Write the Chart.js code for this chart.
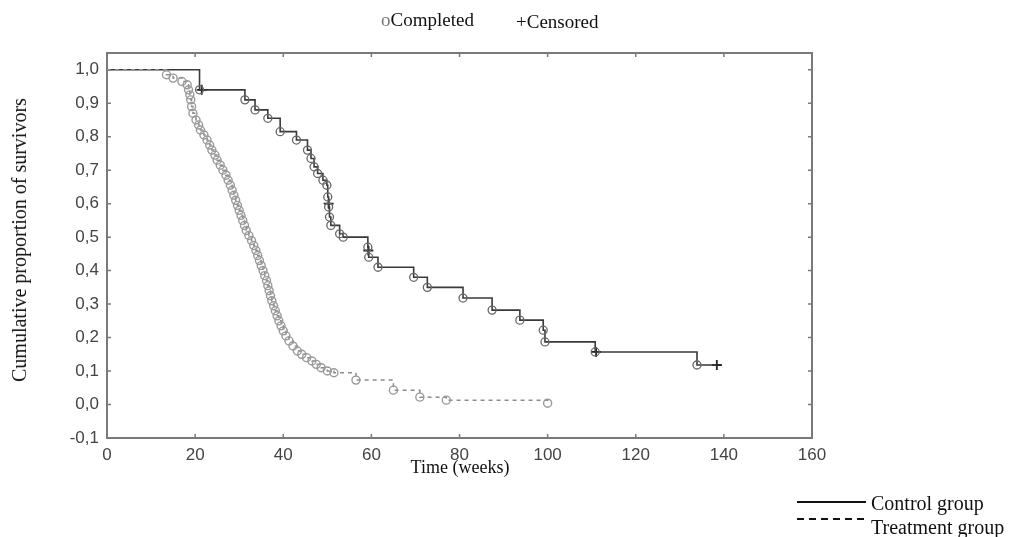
<!DOCTYPE html>
<html>
<head>
<meta charset="utf-8">
<script src="https://cdn.jsdelivr.net/npm/chart.js@4.4.1/dist/chart.umd.min.js"></script>
<style>
  html, body { margin: 0; padding: 0; background: #fff; }
  #wrap { position: relative; width: 1016px; height: 537px; overflow: hidden; }
  #c { position: absolute; left: 0; top: 0; }
  .serif { font-family: "Liberation Serif", "Times New Roman", serif; color: #111; position: absolute; white-space: nowrap; line-height: 1; }
  .lgline { position: absolute; }
</style>
</head>
<body>
<div id="wrap">
  <canvas id="c" width="1016" height="537"></canvas>
  <div class="serif" style="left:381px; top:10px; font-size:19px;"><span style="color:#777;">o</span>Completed</div>
  <div class="serif" style="left:516px; top:12px; font-size:19px;">+Censored</div>
  <div class="serif" id="ytitle" style="left:19px; top:240px; font-size:20px; transform: translate(-50%,-50%) rotate(-90deg);">Cumulative proportion of survivors</div>
  <div class="serif" style="left:460px; top:467px; font-size:18px; transform: translate(-50%,-50%);">Time (weeks)</div>
  <div class="lgline" style="left:797px; top:501px; width:69px; height:1.6px; background:#111;"></div>
  <div class="serif" style="left:871px; top:493px; font-size:20px;">Control group</div>
  <div class="lgline" style="left:797px; top:518px; width:69px; height:1.6px; background: repeating-linear-gradient(to right, #111 0 7px, transparent 7px 12px);"></div>
  <div class="serif" style="left:871px; top:517px; font-size:20px;">Treatment group</div>
</div>
<script>
// ---- data ----
const xTicks = [0, 20, 40, 60, 80, 100, 120, 140, 160];
const yTicks = [-0.1, 0.0, 0.1, 0.2, 0.3, 0.4, 0.5, 0.6, 0.7, 0.8, 0.9, 1.0];
const yTickLabels = ['-0,1', '0,0', '0,1', '0,2', '0,3', '0,4', '0,5', '0,6', '0,7', '0,8', '0,9', '1,0'];

// Control group: event times (weeks) and survival after event
const controlWeeks = [0, 21, 31.3, 33.6, 36.5, 39.3, 43, 45.5, 46.3, 47, 47.8, 49, 49.9, 50.1, 50.3, 50.5, 50.8, 52.8, 53.6, 59.2, 59.4, 61.5, 69.6, 72.7, 80.8, 87.4, 93.7, 99, 99.4, 110.8, 133.9, 138.4];
const controlSurv  = [1.0, 0.94, 0.91, 0.88, 0.855, 0.815, 0.79, 0.76, 0.735, 0.71, 0.69, 0.67, 0.655, 0.62, 0.59, 0.56, 0.535, 0.51, 0.50, 0.47, 0.44, 0.41, 0.38, 0.35, 0.318, 0.282, 0.252, 0.222, 0.187, 0.157, 0.118, 0.118];

// Control group censored marks
const censoredWeeks = [21.5, 50.3, 59.3, 111, 138.4];
const censoredSurv  = [0.94, 0.60, 0.46, 0.157, 0.118];

// Treatment group: event times (weeks) and survival after event
const treatWeeks = [0, 13.5, 15, 17, 18.2, 18.5, 18.8, 19, 19.2, 19.5, 20.2, 20.8, 21.2, 22, 22.7, 23.3, 23.8, 24.5, 25, 25.7, 26.3, 27, 27.5, 28, 28.4, 28.8, 29.2, 29.6, 30, 30.4, 30.8, 31.2, 31.6, 32.2, 32.8, 33.3, 33.8, 34.2, 34.6, 35, 35.4, 35.8, 36.2, 36.5, 36.8, 37.1, 37.4, 37.8, 38.2, 38.6, 39, 39.5, 40, 40.6, 41.3, 42.2, 43.2, 44.2, 45.3, 46.5, 47.5, 48.6, 50, 51.5, 56.5, 65, 71, 77, 100];
const treatSurv  = [1.0, 0.985, 0.975, 0.965, 0.955, 0.94, 0.925, 0.91, 0.89, 0.87, 0.85, 0.835, 0.82, 0.805, 0.79, 0.775, 0.76, 0.745, 0.73, 0.715, 0.70, 0.685, 0.67, 0.655, 0.64, 0.625, 0.61, 0.595, 0.58, 0.565, 0.55, 0.535, 0.52, 0.505, 0.49, 0.475, 0.46, 0.445, 0.43, 0.415, 0.40, 0.385, 0.37, 0.355, 0.34, 0.325, 0.31, 0.295, 0.28, 0.265, 0.25, 0.235, 0.22, 0.205, 0.19, 0.175, 0.16, 0.15, 0.14, 0.13, 0.12, 0.11, 0.10, 0.095, 0.073, 0.043, 0.022, 0.013, 0.004];

const toXY = (xs, ys) => xs.map((v, i) => ({ x: v, y: ys[i] }));

const framePlugin = {
  id: 'frame',
  beforeDatasetsDraw(chart) {
    const { ctx, chartArea: a, scales: { x, y } } = chart;
    ctx.save();
    ctx.strokeStyle = '#7a7a7a';
    ctx.lineWidth = 2;
    ctx.strokeRect(a.left, a.top, a.right - a.left, a.bottom - a.top);
    ctx.lineWidth = 1.5;
    ctx.beginPath();
    xTicks.forEach(v => {
      const px = x.getPixelForValue(v);
      ctx.moveTo(px, a.bottom); ctx.lineTo(px, a.bottom - 4);
      ctx.moveTo(px, a.top); ctx.lineTo(px, a.top + 4);
    });
    yTicks.forEach(v => {
      const py = y.getPixelForValue(v);
      ctx.moveTo(a.left, py); ctx.lineTo(a.left + 4, py);
      ctx.moveTo(a.right, py); ctx.lineTo(a.right - 4, py);
    });
    ctx.stroke();
    ctx.restore();
  }
};

new Chart(document.getElementById('c'), {
  type: 'scatter',
  data: {
    datasets: [
      {
        label: 'Treatment group',
        data: toXY(treatWeeks, treatSurv),
        showLine: true,
        stepped: true,
        borderColor: '#8c8c8c',
        borderWidth: 1.5,
        borderDash: [4, 4],
        pointStyle: 'circle',
        pointRadius: ctx => ctx.dataIndex === 0 ? 0 : 4,
        pointBorderColor: '#9a9a9a',
        pointBorderWidth: 1.4,
        pointBackgroundColor: 'rgba(255,255,255,0)'
      },
      {
        label: 'Control group',
        data: toXY(controlWeeks, controlSurv),
        showLine: true,
        stepped: true,
        borderColor: '#3a3a3a',
        borderWidth: 1.6,
        pointStyle: 'circle',
        pointRadius: ctx => (ctx.dataIndex === 0 || ctx.dataIndex === controlWeeks.length - 1) ? 0 : 4,
        pointBorderColor: '#666',
        pointBorderWidth: 1.3,
        pointBackgroundColor: 'rgba(255,255,255,0)'
      },
      {
        label: 'Censored',
        data: toXY(censoredWeeks, censoredSurv),
        showLine: false,
        pointStyle: 'cross',
        pointRadius: 5,
        pointBorderColor: '#222',
        pointBorderWidth: 1.8
      }
    ]
  },
  options: {
    responsive: false,
    animation: false,
    layout: { padding: { top: 53, right: 204, bottom: 0, left: 0 } },
    plugins: { legend: { display: false }, tooltip: { enabled: false } },
    scales: {
      x: {
        type: 'linear', min: 0, max: 160,
        afterBuildTicks: s => { s.ticks = xTicks.map(v => ({ value: v })); },
        afterFit: s => { s.height = 99; },
        grid: { display: false, drawTicks: false },
        border: { display: false },
        ticks: { autoSkip: false, maxRotation: 0, padding: 7, color: '#444',
                 font: { family: '"Liberation Sans", Arial, sans-serif', size: 17 },
                 callback: v => String(v) }
      },
      y: {
        type: 'linear', min: -0.1, max: 1.05,
        afterBuildTicks: s => { s.ticks = yTicks.map(v => ({ value: v })); },
        afterFit: s => { s.width = 107; },
        grid: { display: false, drawTicks: false },
        border: { display: false },
        ticks: { autoSkip: false, padding: 8, color: '#444',
                 font: { family: '"Liberation Sans", Arial, sans-serif', size: 17 },
                 callback: (v) => { const i = yTicks.findIndex(t => Math.abs(t - v) < 1e-6); return i >= 0 ? yTickLabels[i] : ''; } }
      }
    }
  },
  plugins: [framePlugin]
});
</script>
</body>
</html>
